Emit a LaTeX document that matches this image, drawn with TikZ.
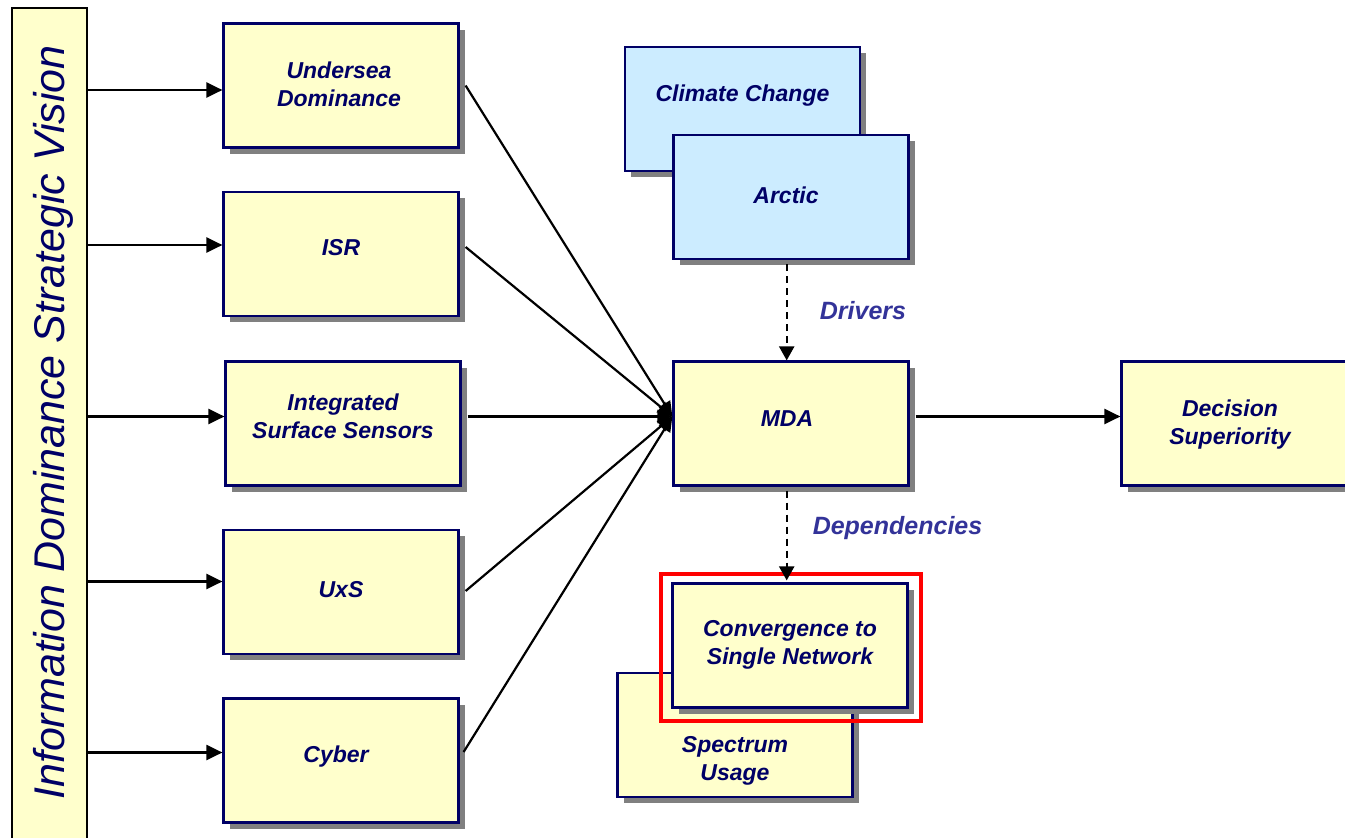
\documentclass[tikz,border=0pt]{standalone}
\usepackage{fontspec}
\setmainfont{Liberation Sans}
\usetikzlibrary{arrows.meta,shadows,calc}
\definecolor{boxfill}{HTML}{FFFFCC}
\definecolor{bluefill}{HTML}{CCECFF}
\definecolor{navy}{HTML}{000066}
\definecolor{lblue}{HTML}{333399}
\definecolor{shadowgray}{HTML}{808080}
\tikzset{
  box/.style={draw=navy, line width=2.2pt, fill=boxfill, minimum width=235pt, minimum height=124pt, inner sep=0pt,
    drop shadow={shadow xshift=6pt, shadow yshift=-6pt, fill=shadowgray, opacity=1}},
  bluebox/.style={box, fill=bluefill},
  boxtext/.style={font=\fontsize{23}{28}\selectfont\bfseries\itshape, text=navy, align=center, inner sep=0pt},
  tag/.style={font=\fontsize{25}{30}\selectfont\bfseries\itshape, text=lblue, inner sep=0pt},
  conn/.style={line width=2.2pt, draw=black},
  arr/.style={conn, -{Triangle[length=16pt,width=15pt]}},
  fan/.style={conn, -{Triangle[length=15pt,width=13pt]}},
  dasharr/.style={line width=2.2pt, draw=black, dash pattern=on 7pt off 5pt, -{Triangle[length=14pt,width=15pt]}},
  sidebar/.style={draw=black, line width=2.4pt, fill=boxfill, minimum width=75pt, minimum height=852pt, inner sep=0pt},
  vistext/.style={font=\fontsize{43}{50}\selectfont\itshape, text=navy, rotate=90, inner sep=0pt},
}
\begin{document}
\begin{tikzpicture}[x=1pt,y=-1pt]
\useasboundingbox (0,0) rectangle (1345,838);
\fill[white] (0,0) rectangle (1345,838);

% side bar
\node[sidebar] (bar) at (49.5,434) {};
\node[vistext] (vis) at (53,422.5) {Information Dominance Strategic Vision};

% left column
\node[box, label={[boxtext,xshift=-2pt,yshift=1.4pt]center:Undersea\\Dominance}] (U) at (341,85.5) {};
\node[box, label={[boxtext,yshift=6.2pt]center:ISR}] (ISR) at (341,254) {};
\node[box, label={[boxtext,yshift=6.9pt]center:Integrated\\Surface Sensors}] (ISS) at (343,423.5) {};
\node[box, label={[boxtext,yshift=2pt]center:UxS}] (UxS) at (341,592) {};
\node[box, label={[boxtext,xshift=-5pt,yshift=4.3pt]center:Cyber}] (Cy) at (341,760.5) {};

% drivers
\node[bluebox, label={[boxtext,yshift=13.3pt]center:Climate Change}] (CC) at (742.5,109) {};
\node[bluebox, label={[boxtext,xshift=-5pt,yshift=2pt]center:Arctic}] (Ar) at (791,197) {};

% centre and right
\node[box, label={[boxtext,xshift=-4pt,yshift=4.5pt]center:MDA}] (MDA) at (791,423.5) {};
\node[box, label={[boxtext,xshift=-9pt,yshift=-1.5pt]center:Decision\\Superiority}] (Dec) at (1239,423.5) {};

% dependencies
\node[box, label={[boxtext,yshift=-25.7pt]center:Spectrum\\Usage}] (Sp) at (735,735) {};
\node[box, label={[boxtext,yshift=0.3pt]center:Convergence to\\Single Network}] (Cv) at (790,645.5) {};
\draw[red, line width=4pt] ($(Cv.north west)+(-10.5,-8.5)$) rectangle ($(Cv.south east)+(12.5,12.5)$);

% bar arrows
\coordinate (uin) at ($(U.west)+(0,4.5)$);
\coordinate (isrin) at ($(ISR.west)+(0,-9)$);
\coordinate (issin) at ($(ISS.west)+(0,-7)$);
\coordinate (uxsin) at ($(UxS.west)+(0,-10.5)$);
\coordinate (cyin) at ($(Cy.west)+(0,-8)$);
\draw[arr] (bar.east |- uin) -- (uin);
\draw[arr] (bar.east |- isrin) -- (isrin);
\draw[arr] (bar.east |- issin) -- (issin);
\draw[arr] (bar.east |- uxsin) -- (uxsin);
\draw[arr] (bar.east |- cyin) -- (cyin);

% fan into MDA
\coordinate (fanend) at ($(MDA.west)+(0,-7)$);
\draw[fan] ($(U.east)+(6,0)$) -- (fanend);
\draw[fan] ($(ISR.east)+(6,-7)$) -- (fanend);
\draw[fan] ($(ISS.east)+(6,-7)$) -- (fanend);
\draw[fan] ($(UxS.east)+(6,-1)$) -- (fanend);
\draw[fan] ($(Cy.east)+(4,-8.5)$) -- (fanend);

% MDA to decision
\draw[arr] ($(MDA.east)+(6,-7)$) -- ($(Dec.west)+(0,-7)$);

% dashed
\draw[dasharr] ($(Ar.south)+(-4.3,4)$) -- ($(MDA.north)+(-4.3,0)$);
\draw[dasharr] ($(MDA.south)+(-4.3,4)$) -- ($(Cv.north)+(-3.3,-2)$);

\node[tag] (drv) at (863,310.2) {Drivers};
\node[tag] (dep) at (897.5,528.5) {Dependencies};
\end{tikzpicture}
\end{document}
